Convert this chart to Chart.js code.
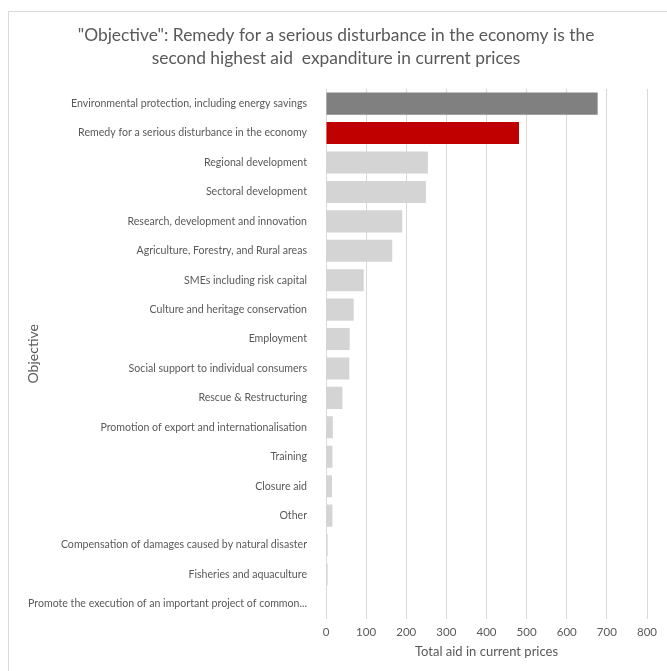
<!DOCTYPE html>
<html>
<head>
<meta charset="utf-8">
<script src="https://cdn.jsdelivr.net/npm/chart.js@4.4.1/dist/chart.umd.min.js"></script>
<style>
    html, body { margin: 0; padding: 0; background: #fff; }
    #wrap { position: relative; width: 667px; height: 671px; }
    #frame { position: absolute; left: 8px; top: 11px; right: -2px; bottom: -2px;
             border-top: 1px solid #d9d9d9; border-left: 1px solid #d9d9d9; }
    canvas { position: absolute; left: 0; top: 0; }
</style>
</head>
<body>
<div id="wrap">
    <div id="frame"></div>
    <canvas id="chart" width="667" height="671"></canvas>
</div>
<script>
const objectives = [
    'Environmental protection, including energy savings',
    'Remedy for a serious disturbance in the economy',
    'Regional development',
    'Sectoral development',
    'Research, development and innovation',
    'Agriculture, Forestry, and Rural areas',
    'SMEs including risk capital',
    'Culture and heritage conservation',
    'Employment',
    'Social support to individual consumers',
    'Rescue & Restructuring',
    'Promotion of export and internationalisation',
    'Training',
    'Closure aid',
    'Other',
    'Compensation of damages caused by natural disaster',
    'Fisheries and aquaculture',
    'Promote the execution of an important project of common...'
];
const totalAid = [677, 481, 254, 249, 190, 165, 94, 69, 59, 58, 41, 17, 16, 15, 16, 4, 4, 1];
const xTicks = [0, 100, 200, 300, 400, 500, 600, 700, 800];

const barColors = objectives.map(function(o, i) {
    if (i === 0) return '#808080';
    if (i === 1) return '#c00000';
    return '#d4d4d4';
});

const font = "Lato, 'Open Sans', sans-serif";
const textColor = '#595959';

const ctx = document.getElementById('chart').getContext('2d');
const chart = new Chart(ctx, {
    type: 'bar',
    data: {
        labels: objectives,
        datasets: [{
            label: 'Total aid in current prices',
            data: totalAid,
            backgroundColor: barColors,
            borderWidth: 0,
            barPercentage: 0.75,
            categoryPercentage: 1
        }]
    },
    options: {
        indexAxis: 'y',
        responsive: false,
        animation: false,
        layout: { padding: { left: 25, right: 20, top: 0, bottom: 11 } },
        plugins: {
            legend: { display: false },
            tooltip: { enabled: false },
            title: {
                display: true,
                text: ['"Objective": Remedy for a serious disturbance in the economy is the',
                       'second highest aid  expanditure in current prices'],
                color: textColor,
                font: { family: font, size: 17.4, weight: 'normal', lineHeight: 1.32 },
                padding: { top: 23.5, bottom: 19.5 }
            }
        },
        scales: {
            x: {
                min: 0,
                max: 800,
                afterBuildTicks: function(scale) {
                    scale.ticks = xTicks.map(function(v) { return { value: v }; });
                },
                grid: { color: '#d9d9d9', drawTicks: false },
                border: { display: false },
                ticks: { color: textColor, padding: 7, font: { family: font, size: 11.5 } },
                title: {
                    display: true,
                    text: 'Total aid in current prices',
                    color: textColor,
                    font: { family: font, size: 13 },
                    padding: { top: -2, bottom: 0 }
                }
            },
            y: {
                grid: { display: false },
                border: { display: false },
                ticks: { color: textColor, padding: 11, autoSkip: false, font: { family: font, size: 10.6 } },
                title: {
                    display: true,
                    text: 'Objective',
                    color: textColor,
                    font: { family: font, size: 14 },
                    padding: { top: 0, bottom: 0 }
                },
                afterFit: function(scale) { scale.width = 301; }
            }
        }
    }
});
</script>
</body>
</html>
